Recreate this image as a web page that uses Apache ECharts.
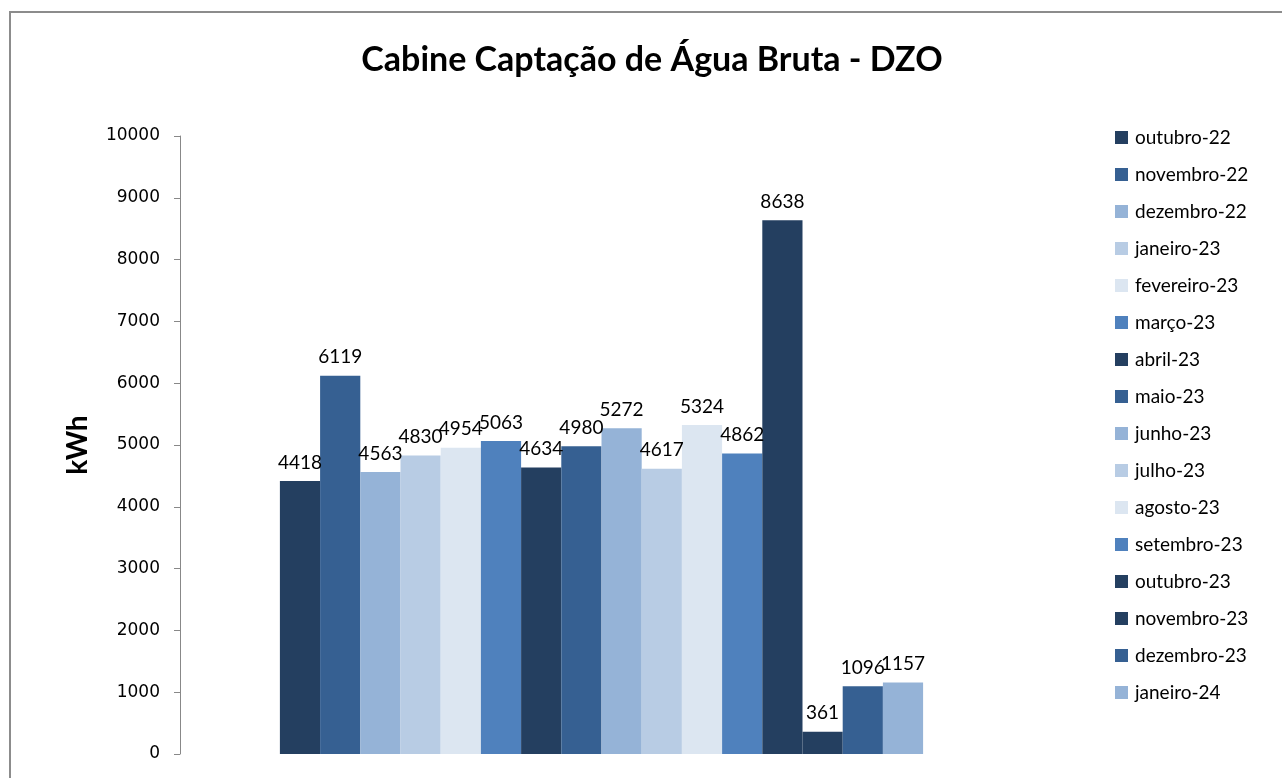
<!DOCTYPE html>
<html>
<head>
<meta charset="utf-8">
<script src="https://cdn.jsdelivr.net/npm/echarts@6/dist/echarts.min.js"></script>
<style>html,body{margin:0;padding:0;background:#fff;}#c{width:1282px;height:778px;}</style>
</head>
<body>
<div id="c"></div>
<script>
const months = ["outubro-22","novembro-22","dezembro-22","janeiro-23","fevereiro-23","março-23","abril-23","maio-23","junho-23","julho-23","agosto-23","setembro-23","outubro-23","novembro-23","dezembro-23","janeiro-24"];
const values = [4418,6119,4563,4830,4954,5063,4634,4980,5272,4617,5324,4862,8638,361,1096,1157];
const colors = ["#243F60","#366092","#95B3D7","#B8CCE4","#DCE6F1","#4F81BD","#243F60","#366092","#95B3D7","#B8CCE4","#DCE6F1","#4F81BD","#243F60","#243F60","#366092","#95B3D7"];
const yTicks = [0,1000,2000,3000,4000,5000,6000,7000,8000,9000,10000];
const titleText = "Cabine Captação de Água Bruta - DZO";
const yName = "kWh";

const chart = echarts.init(document.getElementById('c'), null, {renderer:'canvas'});
const labelFont = "Lato, 'Noto Sans', sans-serif";
const series = months.map((m,i)=>({
  name: m,
  type: 'bar',
  data: [values[i]],
  barWidth: 40.2,
  barGap: '0%',
  itemStyle: {color: colors[i]},
  label: {show: true, position: 'top', distance: 9, color: '#000', fontSize: 19, fontFamily: labelFont},
  emphasis: {disabled: true}
}));
chart.setOption({
  animation: false,
  backgroundColor: '#fff',
  color: colors,
  title: {text: titleText, left: 647, textAlign: 'center', top: 38,
    textStyle: {fontFamily: labelFont, fontWeight: 'bold', fontSize: 34, color: '#000'}},
  graphic: [{type:'rect', shape:{x:10,y:12,width:1400,height:900}, style:{fill:'none', stroke:'#8c8c8c', lineWidth:2}, silent:true, z:-1}],
  grid: {left: 180, right: 259, top: 136, bottom: 24, containLabel: false},
  legend: {orient: 'vertical', left: 1110, top: 123, itemWidth: 13, itemHeight: 13, itemGap: 18,
    icon: 'rect', data: months,
    textStyle: {fontSize: 19, lineHeight: 17, color: '#000', fontFamily: labelFont, padding:[0,0,0,2]}},
  xAxis: {type: 'category', data: [''], show: false},
  yAxis: {type: 'value', min: 0, max: 10000, interval: 1000,
    name: yName, nameLocation: 'middle', nameGap: 88,
    nameTextStyle: {fontWeight: 'bold', fontSize: 28, fontFamily: labelFont, color: '#000'},
    axisLine: {show: true, lineStyle: {color: '#888', width: 1}},
    axisTick: {show: true, length: 6, lineStyle: {color: '#888'}},
    splitLine: {show: false},
    axisLabel: {fontFamily: "'DejaVu Sans', Verdana, sans-serif", fontSize: 17, color: '#000', margin: 20,
      formatter: v => yTicks.includes(v) ? String(v) : ''}
  },
  series: series
});
</script>
</body>
</html>
